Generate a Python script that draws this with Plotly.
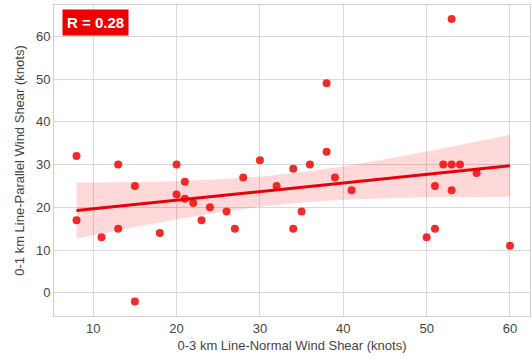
import numpy as np
import plotly.graph_objects as go

x_normal = [8, 8, 11, 13, 13, 15, 15, 18, 20, 20, 21, 21, 22, 23, 24, 26, 27, 28, 30,
            32, 34, 34, 35, 36, 38, 38, 39, 41, 50, 51, 51, 52, 53, 53, 53, 54, 56, 60]
y_parallel = [32, 17, 13, 30, 15, 25, -2, 14, 30, 23, 26, 22, 21, 17, 20, 19, 15, 27, 31,
              25, 29, 15, 19, 30, 49, 33, 27, 24, 13, 25, 15, 30, 64, 30, 24, 30, 28, 11]
r_label = "R = 0.28"

x = np.array(x_normal, float)
y = np.array(y_parallel, float)
n = len(x)
b1, b0 = np.polyfit(x, y, 1)
xs = np.linspace(x.min(), x.max(), 100)
ys = b0 + b1 * xs
resid = y - (b0 + b1 * x)
s = np.sqrt(np.sum(resid ** 2) / (n - 2))
se = s * np.sqrt(1 / n + (xs - x.mean()) ** 2 / np.sum((x - x.mean()) ** 2))
t = 2.026
lo, hi = ys - t * se, ys + t * se

fig = go.Figure()
fig.add_trace(go.Scatter(x=np.concatenate([xs, xs[::-1]]), y=np.concatenate([hi, lo[::-1]]),
                         fill="toself", fillcolor="rgba(255,0,0,0.15)", line=dict(width=0),
                         hoverinfo="skip", showlegend=False))
fig.add_trace(go.Scatter(x=x_normal, y=y_parallel, mode="markers",
                         marker=dict(color="rgba(240,20,20,0.9)", size=8, line=dict(width=0)),
                         showlegend=False))
fig.add_trace(go.Scatter(x=xs, y=ys, mode="lines", line=dict(color="#e8000b", width=3),
                         showlegend=False))

fig.add_annotation(xref="paper", yref="paper", x=0.017, y=0.987, xanchor="left", yanchor="top",
                   text="<b>" + r_label + "</b>", showarrow=False,
                   font=dict(color="white", size=15, family="Liberation Sans, Arial"),
                   bgcolor="#ee0000", borderpad=4)

axis_common = dict(showgrid=True, gridcolor="#d9d9d9", gridwidth=1, zeroline=False,
                   showline=True, linecolor="#d0d0d0", linewidth=1, mirror=True,
                   ticks="", tickfont=dict(size=13, color="#444"),
                   title_font=dict(size=13, color="#444"))
fig.update_xaxes(range=[5.3, 62.4], tickvals=[10, 20, 30, 40, 50, 60],
                 title_text="0-3 km Line-Normal Wind Shear (knots)", title_standoff=6, **axis_common)
fig.update_yaxes(range=[-5.4, 67.3], tickvals=[0, 10, 20, 30, 40, 50, 60],
                 title_text="0-1 km Line-Parallel Wind Shear (knots)", title_standoff=8, **axis_common)

fig.update_layout(width=532, height=359, margin=dict(l=54, r=2, t=5, b=43),
                  plot_bgcolor="white", paper_bgcolor="white",
                  font=dict(family="Liberation Sans, Arial", color="#444"))
fig.write_html("out.html")
